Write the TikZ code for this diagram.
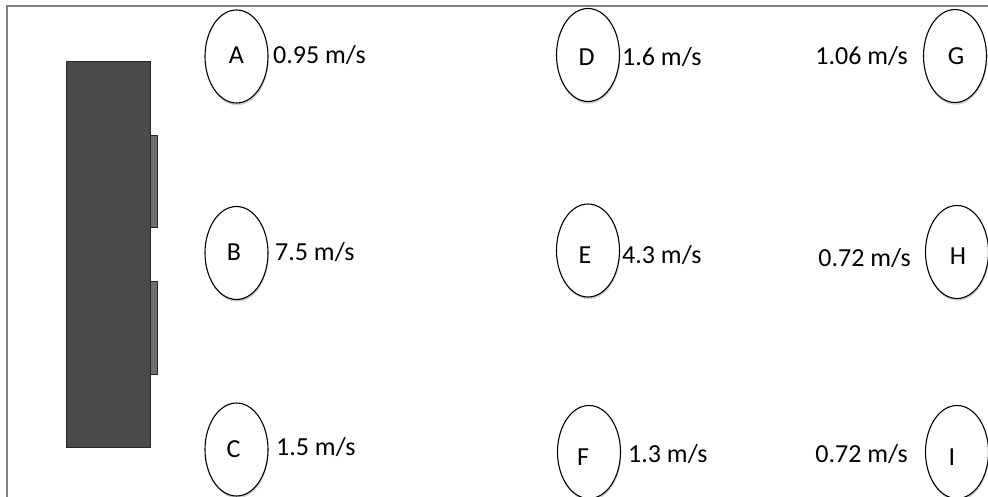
\documentclass[tikz,border=0pt]{standalone}
\usepackage{fontspec}
\setmainfont{Carlito}
\usetikzlibrary{shapes.geometric,shadows}
\definecolor{framegray}{HTML}{7F7F7F}
\definecolor{boxfill}{HTML}{4A4A4A}
\definecolor{boxline}{HTML}{262626}
\definecolor{tabfill}{HTML}{6E6E6E}
\newcommand{\bigtxt}{\fontsize{26}{30}\selectfont}
\tikzset{
  frameline/.style={draw=framegray, line width=2pt},
  cabinet/.style={fill=boxfill, draw=boxline, line width=1pt},
  tabbox/.style={fill=tabfill, draw=boxline, line width=0.8pt},
  pt/.style={ellipse, draw=black, line width=1.1pt, fill=white,
    minimum width=63pt, minimum height=93pt, inner sep=0pt,
    drop shadow={shadow xshift=0.6pt, shadow yshift=-2.2pt, opacity=0.18, fill=black}},
  letter/.style={inner sep=0pt, anchor=base},
  lbl/.style={inner sep=0pt}
}
\begin{document}
\begin{tikzpicture}[x=1pt,y=-1pt]
\useasboundingbox (0,0) rectangle (988,497);
\clip (0,0) rectangle (988,497);
\fill[white] (0,0) rectangle (988,497);
% frame (top and left edges visible)
\draw[frameline] (6.5,497) -- (6.5,6.5) -- (988,6.5);
% cabinet with two tabs
\draw[cabinet] (66.7,61.7) rectangle (150,447);
\draw[tabbox] (150,135) rectangle (157.3,227.7);
\draw[tabbox] (150,281.7) rectangle (157.3,374);
% measurement points
\node[pt] (A) at (236.5,56.5) {};
\node[pt] (B) at (236.5,253) {};
\node[pt] (C) at (236.5,449.5) {};
\node[pt] (D) at (588,55) {};
\node[pt] (E) at (588,250.5) {};
\node[pt] (F) at (589,452) {};
\node[pt] (G) at (955,56) {};
\node[pt] (H) at (957,252) {};
\node[pt] (I) at (957,452) {};
\node[letter] (tA) at (236.5,63.5) {\bigtxt A};
\node[letter] (tB) at (234,261) {\bigtxt B};
\node[letter] (tC) at (233.5,457) {\bigtxt C};
\node[letter] (tD) at (586.5,66) {\bigtxt D};
\node[letter] (tE) at (585,263) {\bigtxt E};
\node[letter] (tF) at (583,465) {\bigtxt F};
\node[letter] (tG) at (956,65) {\bigtxt G};
\node[letter] (tH) at (958,265) {\bigtxt H};
\node[letter] (tI) at (952,465) {\bigtxt I};
% speed labels
\node[lbl, anchor=base west] (lA) at (273,63.5) {\bigtxt 0.95 m/s};
\node[lbl, anchor=base west] (lB) at (275,261) {\bigtxt 7.5 m/s};
\node[lbl, anchor=base west] (lC) at (276,455.5) {\bigtxt 1.5 m/s};
\node[lbl, anchor=base west] (lD) at (622,66) {\bigtxt 1.6 m/s};
\node[lbl, anchor=base west] (lE) at (622,263) {\bigtxt 4.3 m/s};
\node[lbl, anchor=base west] (lF) at (628,462) {\bigtxt 1.3 m/s};
\node[lbl, anchor=base east] (lG) at (908,65) {\bigtxt 1.06 m/s};
\node[lbl, anchor=base east] (lH) at (911,266) {\bigtxt 0.72 m/s};
\node[lbl, anchor=base east] (lI) at (908,462) {\bigtxt 0.72 m/s};
\end{tikzpicture}
\end{document}
